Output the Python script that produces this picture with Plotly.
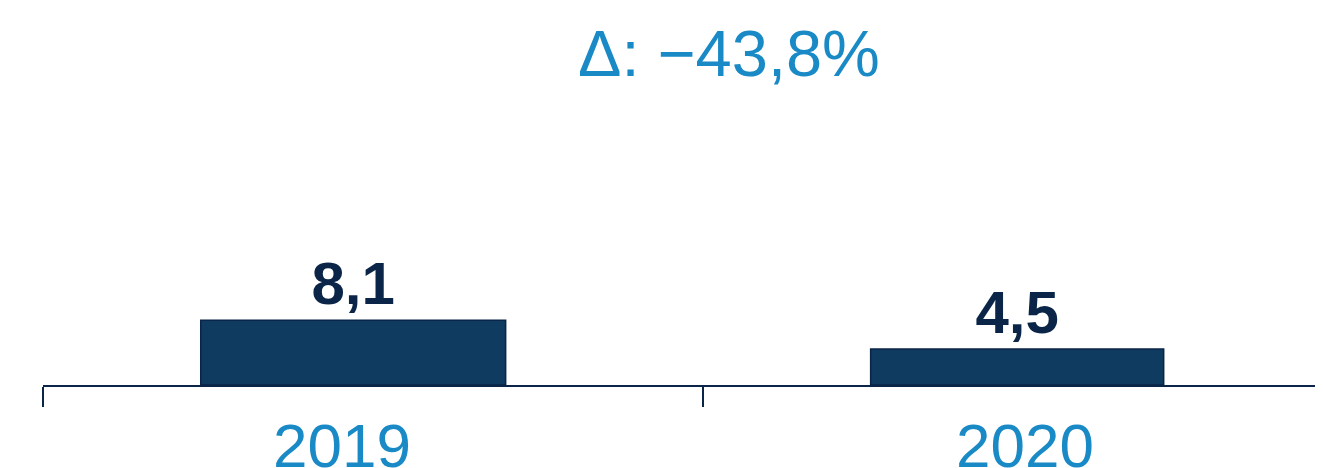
import plotly.graph_objects as go

# ---- data ----
years = ["2019", "2020"]
values = [8.1, 4.5]
delta_label = "Δ: −43,8%"

value_text = [f"{v:.1f}".replace(".", ",") for v in values]
positions = list(range(len(years)))

NAVY = "#0a2547"
BAR = "#0e3b5f"
BLUE = "#1a8ac6"
FONT = "Liberation Sans, Arial, sans-serif"

fig = go.Figure()
fig.add_trace(go.Bar(
    x=positions,
    y=values,
    width=[0.462, 0.444],
    offset=[-0.261, -0.246],
    marker=dict(color=BAR, line=dict(color=NAVY, width=1.5)),
    text=value_text,
    textposition="outside",
    textfont=dict(family=FONT, size=60, color=NAVY, weight="bold"),
    cliponaxis=False,
    hoverinfo="skip",
))

fig.update_layout(
    width=1323,
    height=468,
    margin=dict(l=35, r=0, t=92, b=91, autoexpand=False),
    paper_bgcolor="white",
    plot_bgcolor="white",
    showlegend=False,
    title=dict(
        text=delta_label,
        x=721 / 1323,
        xanchor="center",
        xref="container",
        yref="container",
        y=1 - 45 / 468,
        yanchor="middle",
        font=dict(family=FONT, size=65, color=BLUE),
    ),
    xaxis=dict(
        range=[-0.5, 1.4515],
        automargin=False,
        showline=True,
        linecolor=NAVY,
        linewidth=2,
        tickmode="array",
        tickvals=[p - 0.047 if p == 0 else p - 0.012 for p in positions],
        ticktext=years,
        ticks="",
        ticklabelstandoff=6,
        minor=dict(ticks="outside", tick0=-0.5, dtick=1, ticklen=20,
                   tickwidth=2, tickcolor=NAVY, showgrid=False),
        tickfont=dict(family=FONT, size=62, color=BLUE),
        showgrid=False,
        zeroline=False,
    ),
    yaxis=dict(
        range=[0, 35.6],
        visible=False,
        showgrid=False,
        zeroline=False,
    ),
)

fig.write_html("out.html")
